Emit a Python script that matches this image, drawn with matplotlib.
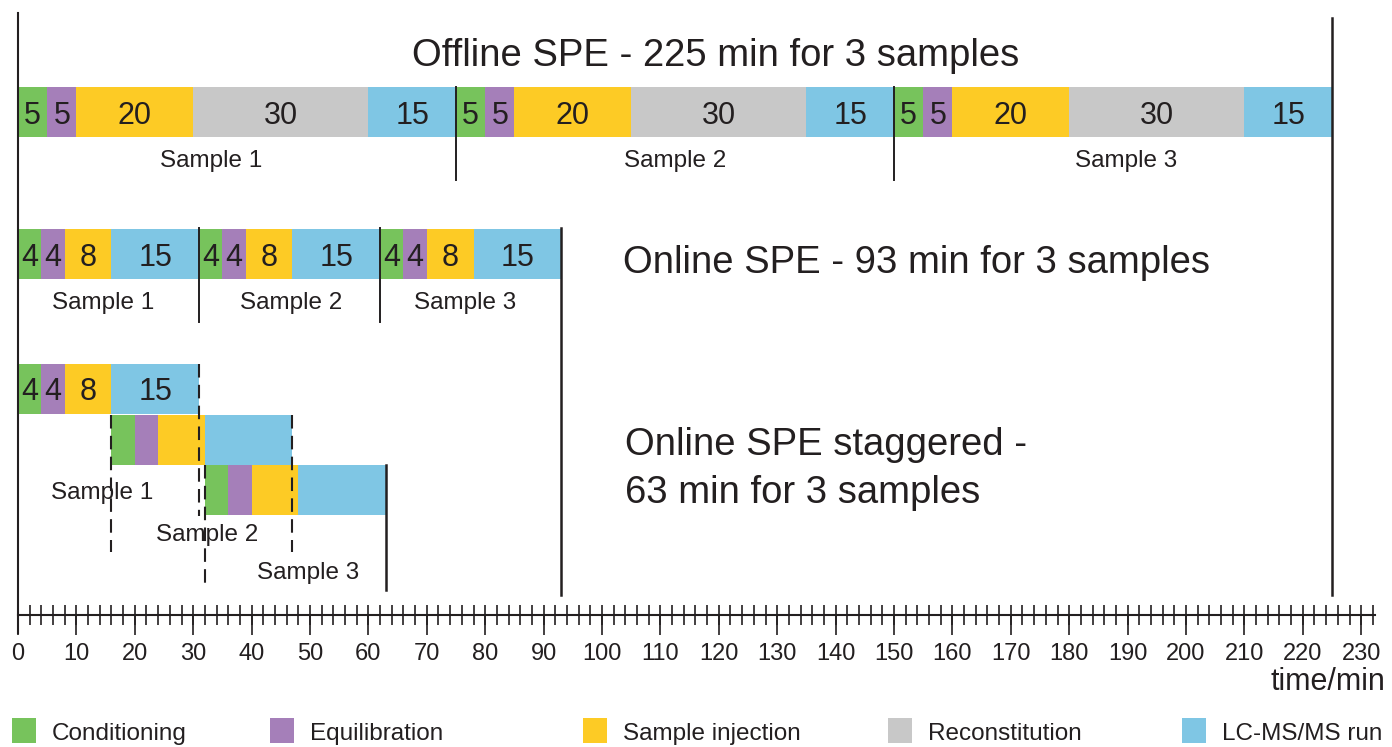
import matplotlib
matplotlib.use("Agg")
import matplotlib.pyplot as plt
from matplotlib.patches import Rectangle
from matplotlib.ticker import FixedLocator, NullFormatter
import numpy as np

plt.rcParams['font.family'] = ['Liberation Sans', 'DejaVu Sans']

# ---------------- data ----------------
phases = ['Conditioning', 'Equilibration', 'Sample injection', 'Reconstitution', 'LC-MS/MS run']
phase_colors = ['#77c35c', '#a57fb9', '#fdcb25', '#c8c8c8', '#7fc6e4']

offline_durations = [5, 5, 20, 30, 15]      # min per sample
online_durations = [4, 4, 8, 0, 15]         # no reconstitution online
n_samples = 3
offline_total = 225
online_total = 93
staggered_offsets = [0, 16, 32]             # start of each sample in staggered mode
staggered_total = 63

sample_labels = ['Sample 1', 'Sample 2', 'Sample 3']
offline_label_x = [33, 112.5, 189.7]
online_label_x = [14.6, 46.7, 76.6]
staggered_label_x = [14.4, 32.4, 49.6]

tick_major = np.arange(0, 231, 10)
tick_minor = np.arange(0, 233, 2)

titles = ['Offline SPE - 225 min for 3 samples',
          'Online SPE - 93 min for 3 samples',
          'Online SPE staggered -',
          '63 min for 3 samples']

# ---------------- layout helpers ----------------
W, H = 1392, 747
X0, SCALE = 18.0, 5.84   # pixel of t=0, pixels per minute


def pm(px):
    return (px - X0) / SCALE


TXT = '#231f20'
fig = plt.figure(figsize=(W / 100, H / 100), dpi=100)
ax = fig.add_axes([0, 0, 1, 1])
ax.set_xlim(pm(0), pm(W))
ax.set_ylim(H, 0)
for s in ['top', 'left', 'right']:
    ax.spines[s].set_visible(False)
ax.set_yticks([])

BAR_H = 50


def draw_sample(y_c, start, durations, numbers=True):
    left = start
    for d, c in zip(durations, phase_colors):
        if d == 0:
            continue
        ax.barh(y_c, d, left=left, height=BAR_H, color=c, linewidth=0, zorder=2)
        if numbers:
            ax.text(left + d / 2, y_c + 11.5, str(d), ha='center', va='baseline',
                    fontsize=22, color=TXT, zorder=4)
        left += d
    return left


# ---------------- offline ----------------
y_off = 112
t = 0
for i in range(n_samples):
    t = draw_sample(y_off, t, offline_durations)
    ax.text(offline_label_x[i], 167, sample_labels[i], ha='center', va='baseline',
            fontsize=17.5, color=TXT)
per_off = sum(offline_durations)
for i in range(1, n_samples):
    ax.plot([per_off * i] * 2, [87, 180], color=TXT, lw=1.4, zorder=3)
ax.plot([offline_total] * 2, [18, 595], color=TXT, lw=1.8, zorder=3)
ax.text(pm(716), 66, titles[0], ha='center', va='baseline', fontsize=27.5, color=TXT)

# ---------------- online ----------------
y_on = 254
t = 0
for i in range(n_samples):
    t = draw_sample(y_on, t, online_durations)
    ax.text(online_label_x[i], 309, sample_labels[i], ha='center', va='baseline',
            fontsize=17.5, color=TXT)
per_on = sum(online_durations)
for i in range(1, n_samples):
    ax.plot([per_on * i] * 2, [228, 322], color=TXT, lw=1.4, zorder=3)
ax.plot([online_total] * 2, [228, 595], color=TXT, lw=1.8, zorder=3)
ax.text(pm(623), 273, titles[1], ha='left', va='baseline', fontsize=27.5, color=TXT)

# ---------------- staggered ----------------
row_y = [389, 439.5, 490]
dash = (0, (6.5, 3.5))
end_dash_bottom = [516, 552, None]
start_dash_bottom = [None, 552, 585]
for i in range(n_samples):
    end = draw_sample(row_y[i], staggered_offsets[i], online_durations, numbers=(i == 0))
    top = row_y[i] - BAR_H / 2
    if end_dash_bottom[i] is not None:
        ax.plot([end] * 2, [top, end_dash_bottom[i]], color=TXT, lw=1.5, ls=dash, zorder=3)
    if start_dash_bottom[i] is not None:
        ax.plot([staggered_offsets[i]] * 2, [top, start_dash_bottom[i]],
                color=TXT, lw=1.5, ls=dash, zorder=3)
ax.plot([staggered_total] * 2, [465, 590], color=TXT, lw=1.8, zorder=3)
stag_label_base = [499, 541, 579]
for i in range(n_samples):
    ax.text(staggered_label_x[i], stag_label_base[i], sample_labels[i], ha='center',
            va='baseline', fontsize=17.5, color=TXT)
ax.text(pm(625), 455, titles[2], ha='left', va='baseline', fontsize=27.5, color=TXT)
ax.text(pm(625), 503, titles[3], ha='left', va='baseline', fontsize=27.5, color=TXT)

# left border line
ax.plot([0, 0], [13, 633], color=TXT, lw=1.5, zorder=3)

# ---------------- time axis ----------------
ax.spines['bottom'].set_position(('data', 615))
ax.spines['bottom'].set_bounds(0, 232.3)
ax.spines['bottom'].set_linewidth(1.5)
ax.spines['bottom'].set_color(TXT)
ax.xaxis.remove_overlapping_locs = False
ax.xaxis.set_major_locator(FixedLocator(tick_major))
ax.xaxis.set_minor_locator(FixedLocator(tick_minor))
ax.xaxis.set_minor_formatter(NullFormatter())
ax.tick_params(axis='x', which='major', direction='out', length=14.4, width=1.2,
               color=TXT, labelsize=17, labelcolor=TXT, pad=5.8)
ax.tick_params(axis='x', which='minor', direction='inout', length=13.7, width=1.2,
               color=TXT)
ax.text(pm(1385), 690, 'time/min', ha='right', va='baseline', fontsize=22, color=TXT)

# ---------------- legend ----------------
leg_sq_x = [12, 270, 583, 888, 1182]
for px, name, c in zip(leg_sq_x, phases, phase_colors):
    ax.add_patch(Rectangle((pm(px), 718), 24 / SCALE, 25, color=c, lw=0,
                           clip_on=False))
    ax.text(pm(px + 40), 740, name, ha='left', va='baseline', fontsize=17.5, color=TXT)

fig.savefig('out.png', dpi=100)
